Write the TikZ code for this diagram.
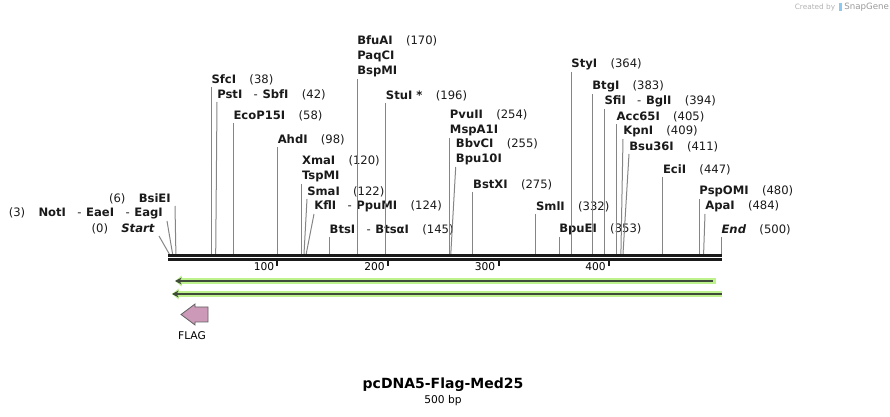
\documentclass[tikz,border=0pt]{standalone}
\usepackage{fontspec}
\setmainfont{DejaVu Sans}
\usetikzlibrary{arrows.meta}

\definecolor{cutgray}{HTML}{858585}
\definecolor{ink}{HTML}{1A1A1A}
\definecolor{halo}{HTML}{BDF28C}
\definecolor{strand}{HTML}{3F4A3A}
\definecolor{flagpink}{HTML}{CC9AB8}
\definecolor{snapblue}{HTML}{8CC8F0}

\newcommand{\numgap}{\hspace{10pt}}
\newcommand{\dsep}{\hspace{8.5pt}-\hspace{3.5pt}}

\tikzset{
  lab/.style={anchor=south west, inner xsep=0pt, inner ysep=1pt, align=left, text=ink,
    font=\fontsize{8.7}{11.25}\selectfont},
  labl/.style={anchor=south east, inner xsep=3pt, inner ysep=1pt, text=ink,
    font=\fontsize{8.7}{11.25}\selectfont},
  cut/.style={draw=cutgray, line width=0.75pt},
  bar/.style={draw=ink, line width=2.2pt},
  tick/.style={draw=ink, line width=1.5pt},
}

\begin{document}
\begin{tikzpicture}[x=0.75pt, y=-0.75pt, font=\fontsize{8}{11.25}\selectfont]
	\useasboundingbox (0,0) rectangle (890,417);

	% cut sites on the sequence
	\coordinate (c0) at (169.3,254);
	\coordinate (c3) at (172.6,254);
	\coordinate (c6) at (175.9,254);
	\coordinate (c38) at (211.3,254);
	\coordinate (c42) at (215.7,254);
	\coordinate (c58) at (233.3,254);
	\coordinate (c98) at (277.5,254);
	\coordinate (c120) at (301.8,254);
	\coordinate (c122) at (304.0,254);
	\coordinate (c124) at (306.2,254);
	\coordinate (c145) at (329.4,254);
	\coordinate (c170) at (357.0,254);
	\coordinate (c196) at (385.7,254);
	\coordinate (c254) at (449.7,254);
	\coordinate (c255) at (450.8,254);
	\coordinate (c275) at (472.9,254);
	\coordinate (c332) at (535.8,254);
	\coordinate (c353) at (559.0,254);
	\coordinate (c364) at (571.2,254);
	\coordinate (c383) at (592.1,254);
	\coordinate (c394) at (604.3,254);
	\coordinate (c405) at (616.4,254);
	\coordinate (c409) at (620.9,254);
	\coordinate (c411) at (623.0,254);
	\coordinate (c447) at (662.8,254);
	\coordinate (c480) at (699.2,254);
	\coordinate (c484) at (703.6,254);
	\coordinate (c500) at (721.3,254);

	% enzyme labels
	\node[labl] (st) at (159,236) {(0)\numgap\textbf{\textit{Start}}};
	\node[labl] (not) at (167,221) {(3)\numgap\textbf{NotI}\dsep\textbf{EaeI}\dsep\textbf{EagI}};
	\node[labl] (bsie) at (175,206) {(6)\numgap\textbf{BsiEI}};

	\node[lab] (sfc) at (211.3,87) {\textbf{SfcI}\numgap(38)};
	\node[lab] (pst) at (217,102) {\textbf{PstI}\dsep\textbf{SbfI}\numgap(42)};
	\node[lab] (eco) at (233.3,123) {\textbf{EcoP15I}\numgap(58)};
	\node[lab] (ahd) at (277.5,147) {\textbf{AhdI}\numgap(98)};
	\node[lab] (xma) at (301.8,184) {\textbf{XmaI}\numgap(120)\\\textbf{TspMI}};
	\node[lab] (sma) at (307,199) {\textbf{SmaI}\numgap(122)};
	\node[lab] (kfl) at (314,214) {\textbf{KflI}\dsep\textbf{PpuMI}\numgap(124)};
	\node[lab] (bts) at (329.4,237) {\textbf{BtsI}\dsep\textbf{BtsαI}\numgap(145)};
	\node[lab] (bfu) at (357.0,79) {\textbf{BfuAI}\numgap(170)\\\textbf{PaqCI}\\\textbf{BspMI}};
	\node[lab] (stu) at (385.7,103) {\textbf{StuI *}\numgap(196)};
	\node[lab] (pvu) at (449.7,138) {\textbf{PvuII}\numgap(254)\\\textbf{MspA1I}};
	\node[lab] (bbv) at (455.7,167) {\textbf{BbvCI}\numgap(255)\\\textbf{Bpu10I}};
	\node[lab] (bst) at (472.9,192) {\textbf{BstXI}\numgap(275)};
	\node[lab] (sml) at (535.8,214) {\textbf{SmlI}\numgap(332)};
	\node[lab] (bpu) at (559.0,237) {\textbf{BpuEI}\numgap(353)};
	\node[lab] (sty) at (571.2,72) {\textbf{StyI}\numgap(364)};
	\node[lab] (btg) at (592.1,94) {\textbf{BtgI}\numgap(383)};
	\node[lab] (sfi) at (604.3,109) {\textbf{SfiI}\dsep\textbf{BglI}\numgap(394)};
	\node[lab] (acc) at (616.4,124) {\textbf{Acc65I}\numgap(405)};
	\node[lab] (kpn) at (623,139) {\textbf{KpnI}\numgap(409)};
	\node[lab] (bsu) at (629,154) {\textbf{Bsu36I}\numgap(411)};
	\node[lab] (eci) at (662.8,177) {\textbf{EciI}\numgap(447)};
	\node[lab] (psp) at (699.2,199) {\textbf{PspOMI}\numgap(480)};
	\node[lab] (apa) at (705,214) {\textbf{ApaI}\numgap(484)};
	\node[lab] (fin) at (721.3,237) {\textbf{\textit{End}}\numgap(500)};

	\path (st.south east) edge[cut] (c0)
	(not.south east) edge[cut] (c3)
	(bsie.south east) edge[cut] (c6)
	(sfc.south west) edge[cut] (c38)
	(pst.south west) edge[cut] (c42)
	(eco.south west) edge[cut] (c58)
	(ahd.south west) edge[cut] (c98)
	(xma.south west) edge[cut] (c120)
	(sma.south west) edge[cut] (c122)
	(kfl.south west) edge[cut] (c124)
	(bts.south west) edge[cut] (c145)
	(bfu.south west) edge[cut] (c170)
	(stu.south west) edge[cut] (c196)
	(pvu.south west) edge[cut] (c254)
	(bbv.south west) edge[cut] (c255)
	(bst.south west) edge[cut] (c275)
	(sml.south west) edge[cut] (c332)
	(bpu.south west) edge[cut] (c353)
	(sty.south west) edge[cut] (c364)
	(btg.south west) edge[cut] (c383)
	(sfi.south west) edge[cut] (c394)
	(acc.south west) edge[cut] (c405)
	(kpn.south west) edge[cut] (c409)
	(bsu.south west) edge[cut] (c411)
	(eci.south west) edge[cut] (c447)
	(psp.south west) edge[cut] (c480)
	(apa.south west) edge[cut] (c484)
	(fin.south west) edge[cut] (c500);

	% sequence and ruler
	\draw[bar] (168,255.4) -- (722,255.4);
	\draw[bar] (168,259.2) -- (722,259.2);
	\draw[tick] (277.3,260) -- (277.3,266.5);
	\draw[tick] (388.3,260) -- (388.3,266.5);
	\draw[tick] (498.7,260) -- (498.7,266.5);
	\draw[tick] (609.3,260) -- (609.3,266.5);
	\node[anchor=east, inner sep=0pt] (t100) at (274.5,267) {100};
	\node[anchor=east, inner sep=0pt] (t200) at (385,267) {200};
	\node[anchor=east, inner sep=0pt] (t300) at (495.5,267) {300};
	\node[anchor=east, inner sep=0pt] (t400) at (606,267) {400};

	% primer strands
	\draw[halo, line width=4.5pt, -{Triangle[length=5pt,width=8pt]}] (716,281) -- (175,281);
	\draw[strand, line width=1.5pt, -{Stealth[length=5pt,width=5pt]}] (713,281) -- (175,281);
	\draw[halo, line width=4.5pt, -{Triangle[length=5pt,width=8pt]}] (722,294) -- (172,294);
	\draw[strand, line width=1.5pt, -{Stealth[length=5pt,width=5pt]}] (722,294) -- (172,294);

	% FLAG feature
	\draw[fill=flagpink, draw=ink!70, line width=0.6pt] (208,307) -- (195,307) -- (195,304)
		-- (181,314.5) -- (195,325) -- (195,322) -- (208,322) -- cycle;
	\node (flag) at (192,336) {FLAG};

	% title
	\node (title) at (443,385) {\fontsize{10.5}{12}\selectfont\textbf{pcDNA5-Flag-Med25}};
	\node (len) at (443,401) {500 bp};

	% watermark
	\node[text=black!30, inner sep=0pt] (made) at (815,7) {\fontsize{5.5}{6}\selectfont Created by};
	\fill[snapblue] (839,3) rectangle (842,11);
	\node[text=black!40, inner sep=0pt, anchor=west] (snap) at (844,7) {\fontsize{6.5}{7}\selectfont SnapGene};
\end{tikzpicture}
\end{document}
